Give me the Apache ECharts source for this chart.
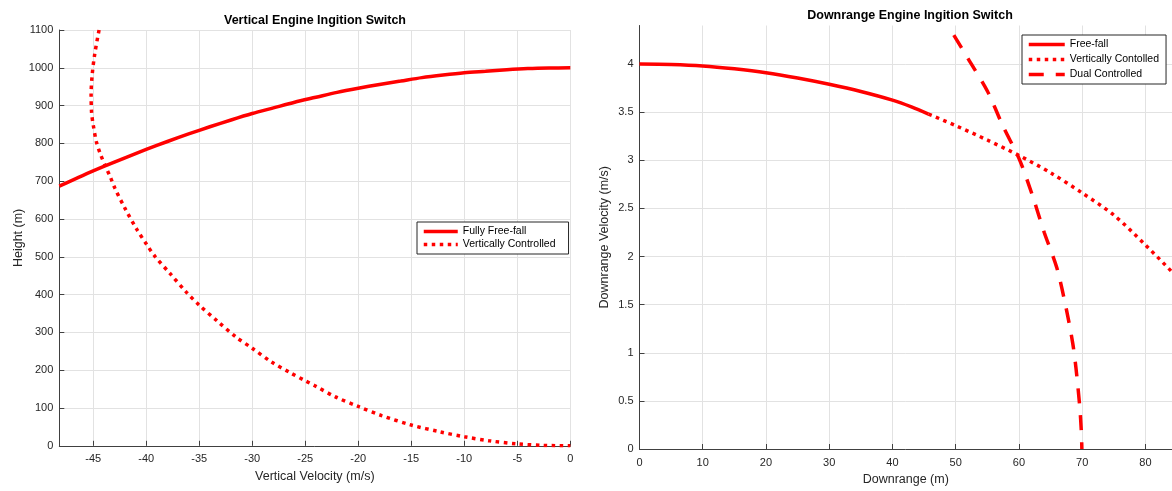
<!DOCTYPE html>
<html><head><meta charset="utf-8">
<script src="https://cdn.jsdelivr.net/npm/echarts@6/dist/echarts.min.js"></script>
<style>html,body{margin:0;padding:0;background:#fff}#c{width:1172px;height:491px}</style>
</head><body><div id="c"></div>
<script>
// ---------- Titles / labels ----------
const leftTitle = 'Vertical Engine Ingition Switch';
const rightTitle = 'Downrange Engine Ingition Switch';
const leftXName = 'Vertical Velocity (m/s)';
const leftYName = 'Height (m)';
const rightXName = 'Downrange (m)';
const rightYName = 'Downrange Velocity (m/s)';
const leftNames = ['Fully Free-fall', 'Vertically Controlled'];
const rightNames = ['Free-fall', 'Vertically Contolled', 'Dual Controlled'];

// ---------- Left plot data (vertical velocity m/s, height m) ----------
const freeFallVel    = [-48.2,-46,-44,-42,-40,-38,-36,-34,-32,-30,-28,-26,-24,-22,-20,-18,-16,-14,-12,-10,-8,-6,-4,-2,0];
const freeFallHeight = [687,715,739,762,784,805,825,844,862,879,894,909,922,935,946,956,965,974,981,987,991,995,998,999.5,1000];

const vertCtrlVel    = [-44.45,-44.86,-45.1,-45.2,-45.15,-45.0,-44.7,-44.3,-43.9,-43.4,-42.95,-42.0,-40.9,-39.9,-39.2,-37.7,-36.2,-35.0,-33.3,-31.5,-30.0,-28.2,-26.4,-25.0,-24.1,-22.2,-20.0,-17.8,-15.0,-12.3,-10.0,-7.6,-5.0,-2.5,0];
const vertCtrlHeight = [1100,1036,981,930,880,849,804,770,743,712,681,628,573,530,502,454,406,372,330,287,258,222,193,172,159,130,104,80,55,37,24,13,5,1,0];

// ---------- Right plot data (downrange m, downrange velocity m/s) ----------
const ffRange = [0,5,10,15,20,25,30,35,40,43,45.7];
const ffVel   = [4.0,3.995,3.98,3.95,3.91,3.855,3.79,3.715,3.625,3.555,3.48];

const vcRange = [45.7,50,55,60,65,70,75,80,84.2];
const vcVel   = [3.48,3.36,3.21,3.05,2.87,2.66,2.43,2.12,1.84];

const dcRange = [49.7,52,55,57.5,60,62,64,66,67.5,68.5,69.0,69.6,69.85,69.95];
const dcVel   = [4.30,4.05,3.72,3.35,3.02,2.66,2.25,1.88,1.45,1.1,0.85,0.45,0.2,0];

// ---------- Axis ranges ----------
const leftX = {min:-48.2, max:0};
const leftY = {min:0, max:1100, step:100};
const rightX = {min:0, max:84.2, step:10};
const rightY = {min:0, max:4.4, step:0.5};

const zip = (a,b) => a.map((v,i)=>[v,b[i]]);
const FONT = 'Liberation Sans, Arial, Helvetica, sans-serif';
const RED = '#ff0000';
const AX = '#404040', TXT = '#262626', GRID = '#e2e2e2';
const plain = v => String(v);

function xAxisCfg(idx, name, r, extra) {
  return Object.assign({
    type:'value', gridIndex:idx, name:name, nameLocation:'middle', nameGap:24,
    nameTextStyle:{fontSize:12.5, color:TXT, fontFamily:FONT},
    min:r.min, max:r.max,
    axisLine:{show:true, onZero:false, lineStyle:{color:AX, width:1}},
    axisTick:{show:true, inside:true, length:5, lineStyle:{color:AX}},
    axisLabel:{fontSize:11, color:TXT, fontFamily:FONT, margin:8, formatter:plain},
    splitLine:{show:true, lineStyle:{color:GRID, width:1}}
  }, extra||{});
}
function yAxisCfg(idx, name, r, gap, extra) {
  return Object.assign({
    type:'value', gridIndex:idx, name:name, nameLocation:'middle', nameGap:gap,
    nameTextStyle:{fontSize:12.5, color:TXT, fontFamily:FONT},
    min:r.min, max:r.max, interval:r.step,
    axisLine:{show:true, onZero:false, lineStyle:{color:AX, width:1}},
    axisTick:{show:true, inside:true, length:5, lineStyle:{color:AX}},
    axisLabel:{fontSize:11, color:TXT, fontFamily:FONT, margin:6, formatter:plain},
    splitLine:{show:true, showMinLine:false, lineStyle:{color:GRID, width:1}}
  }, extra||{});
}

const legendBase = {
  orient:'vertical', borderColor:'#262626', borderWidth:1, backgroundColor:'#fff',
  itemStyle:{opacity:0, borderWidth:0},
  lineStyle:{width:3.5},
  textStyle:{fontSize:10.5, color:'#000', fontFamily:FONT}
};

const chart = echarts.init(document.getElementById('c'), null, {renderer:'canvas'});
chart.setOption({
  backgroundColor:'#fff',
  animation:false,
  title:[
    {text:leftTitle, left:315, top:14, textAlign:'center', padding:0,
     textStyle:{fontSize:12.5, fontWeight:'bold', color:'#000', fontFamily:FONT}},
    {text:rightTitle, left:910, top:9, textAlign:'center', padding:0,
     textStyle:{fontSize:12.5, fontWeight:'bold', color:'#000', fontFamily:FONT}}
  ],
  grid:[
    {left:59.3, right:601.7, top:30, bottom:45.2, containLabel:false},
    {left:639.5, right:0, top:25.5, bottom:40.5, containLabel:false}
  ],
  xAxis:[
    xAxisCfg(0, leftXName, leftX, {splitNumber:10,
      axisLabel:{fontSize:11, color:TXT, fontFamily:FONT, margin:8, formatter:plain, showMinLabel:false, showMaxLabel:true},
      splitLine:{show:true, showMinLine:false, showMaxLine:true, lineStyle:{color:GRID, width:1}}}),
    xAxisCfg(1, rightXName, rightX, {interval:rightX.step,
      axisLabel:{fontSize:11, color:TXT, fontFamily:FONT, margin:8, formatter:plain, showMaxLabel:false},
      splitLine:{show:true, showMinLine:false, showMaxLine:false, lineStyle:{color:GRID, width:1}}})
  ],
  yAxis:[
    yAxisCfg(0, leftYName, leftY, 34),
    yAxisCfg(1, rightYName, rightY, 28, {
      axisLabel:{fontSize:11, color:TXT, fontFamily:FONT, margin:6, formatter:plain, showMaxLabel:false},
      splitLine:{show:true, showMinLine:false, showMaxLine:false, lineStyle:{color:GRID, width:1}}})
  ],
  legend:[
    Object.assign({}, legendBase, {left:417, top:222, itemWidth:34, itemHeight:10, itemGap:2,
      padding:[4,13,4,5], data:leftNames}),
    Object.assign({}, legendBase, {left:1022, top:35, itemWidth:36, itemHeight:10, itemGap:4,
      padding:[4,7,4,5], data:rightNames})
  ],
  series:[
    {name:leftNames[0], type:'line', xAxisIndex:0, yAxisIndex:0, data:zip(freeFallVel,freeFallHeight),
     showSymbol:false, symbol:'none', smooth:0.3, color:RED, lineStyle:{color:RED, width:3.5}},
    {name:leftNames[1], type:'line', xAxisIndex:0, yAxisIndex:0, data:zip(vertCtrlVel,vertCtrlHeight),
     showSymbol:false, symbol:'none', smooth:0.3, color:RED, lineStyle:{color:RED, width:3.5, type:[3.5,4.5], cap:'butt'}},
    {name:rightNames[0], type:'line', xAxisIndex:1, yAxisIndex:1, data:zip(ffRange,ffVel),
     showSymbol:false, symbol:'none', smooth:0.3, color:RED, lineStyle:{color:RED, width:3.5}},
    {name:rightNames[1], type:'line', xAxisIndex:1, yAxisIndex:1, data:zip(vcRange,vcVel),
     showSymbol:false, symbol:'none', smooth:0.3, color:RED, lineStyle:{color:RED, width:3.5, type:[3.5,4.5], cap:'butt'}},
    {name:rightNames[2], type:'line', xAxisIndex:1, yAxisIndex:1, data:zip(dcRange,dcVel),
     showSymbol:false, symbol:'none', smooth:0.3, color:RED, lineStyle:{color:RED, width:3.5, type:[15,12], cap:'butt'}}
  ]
});
</script>
</body></html>
